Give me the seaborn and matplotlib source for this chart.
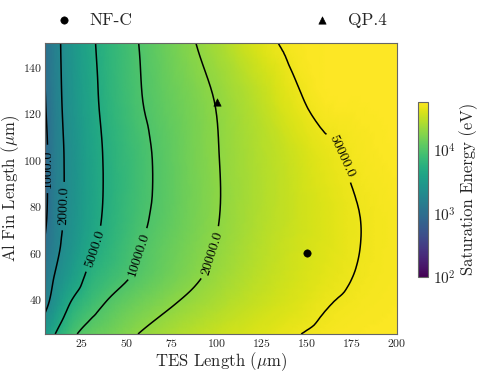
import numpy as np
import matplotlib
matplotlib.use("Agg")
import matplotlib.pyplot as plt
import matplotlib.tri as mtri
from matplotlib.colors import LogNorm
import seaborn as sns

# grid
tes_length = [5, 10, 15, 20, 30, 40, 55, 70, 85, 100, 120, 140, 160, 180, 200]
fin_length = [25, 37.5, 50, 62.5, 75, 100, 125, 150]

# log10 of saturation energy (eV), one row per fin length
log_energy = [
    [3.50, 3.68, 3.82, 3.95, 4.09, 4.17, 4.29, 4.39, 4.47, 4.54, 4.61, 4.68, 4.73, 4.75, 4.76],
    [3.24, 3.42, 3.60, 3.74, 3.91, 4.03, 4.16, 4.26, 4.35, 4.43, 4.53, 4.61, 4.69, 4.73, 4.75],
    [3.12, 3.30, 3.43, 3.54, 3.76, 3.88, 4.02, 4.14, 4.25, 4.35, 4.47, 4.57, 4.65, 4.71, 4.74],
    [3.03, 3.20, 3.34, 3.44, 3.65, 3.79, 3.97, 4.10, 4.21, 4.31, 4.44, 4.55, 4.63, 4.70, 4.74],
    [2.96, 3.17, 3.30, 3.40, 3.60, 3.75, 3.93, 4.06, 4.18, 4.29, 4.42, 4.53, 4.62, 4.70, 4.74],
    [2.94, 3.16, 3.29, 3.39, 3.59, 3.74, 3.91, 4.05, 4.18, 4.29, 4.42, 4.54, 4.66, 4.73, 4.76],
    [2.99, 3.17, 3.32, 3.43, 3.62, 3.78, 3.96, 4.09, 4.20, 4.31, 4.46, 4.64, 4.75, 4.76, 4.77],
    [3.02, 3.19, 3.34, 3.45, 3.65, 3.80, 3.98, 4.13, 4.27, 4.40, 4.60, 4.73, 4.76, 4.77, 4.77],
]
contour_levels = [1000, 2000, 5000, 10000, 20000, 50000]
label_spots = [(6.5, 96), (15, 80), (34.4, 61), (57.8, 59), (96.7, 60), (171.7, 102)]

devices = ["NF-C", "QP.4"]
dev_tes = [150, 100]
dev_fin = [60, 125]
dev_marker = ["o", "^"]

sns.set_style("white")
plt.rcParams["font.family"] = ["cmr10"]
plt.rcParams["mathtext.fontset"] = "cm"
plt.rcParams["axes.formatter.use_mathtext"] = True
plt.rcParams["axes.unicode_minus"] = False

fig = plt.figure(figsize=(4.8, 3.74), dpi=100)
ax = fig.add_axes([0.094, 0.107, 0.733, 0.777])
cax = fig.add_axes([0.871, 0.260, 0.021, 0.468])

X, Y = np.meshgrid(tes_length, fin_length)
Z = np.array(log_energy)
tri = mtri.Triangulation(X.ravel(), Y.ravel())
interp = mtri.CubicTriInterpolator(tri, Z.ravel(), kind="geom")
refiner = mtri.UniformTriRefiner(tri)
tri_f, z_f = refiner.refine_field(Z.ravel(), triinterpolator=interp, subdiv=3)

norm = LogNorm(vmin=1e2, vmax=10 ** 4.77)
mesh = ax.tripcolor(tri_f, 10 ** z_f, cmap="viridis", norm=norm, shading="gouraud")

lv = np.log10(contour_levels)
cs = ax.tricontour(tri_f, z_f, levels=lv, colors="black", linewidths=1.1)
fmt = {l: f"{10 ** l:.1f}" for l in cs.levels}
ax.clabel(cs, fmt=fmt, fontsize=10, manual=label_spots, inline=True)

for name, xt, yf, m in zip(devices, dev_tes, dev_fin, dev_marker):
    sns.scatterplot(x=[xt], y=[yf], marker=m, color="black", s=28,
                    edgecolor="black", label=name, ax=ax, zorder=5)

ax.set_xlim(5, 200)
ax.set_ylim(25, 150)
ax.set_xticks([25, 50, 75, 100, 125, 150, 175, 200])
ax.set_yticks([40, 60, 80, 100, 120, 140])
ax.tick_params(direction="in", length=3, width=0.6, color="#555555",
               labelsize=8.5, top=True, right=True, pad=2)
for sp in ax.spines.values():
    sp.set_color("#666666")
    sp.set_linewidth(0.8)
ax.set_xlabel(r"TES Length ($\mu$m)", fontsize=12, labelpad=1)
ax.set_ylabel(r"Al Fin Length ($\mu$m)", fontsize=12)
ax.yaxis.set_label_coords(-0.066, 0.5)

leg = ax.legend(loc="lower center", bbox_to_anchor=(0.5, 1.03), ncol=2,
                frameon=False, fontsize=12.5, handlelength=1.0,
                handletextpad=1.0, columnspacing=10.4, borderaxespad=0)

cb = fig.colorbar(mesh, cax=cax)
cb.outline.set_edgecolor("#666666")
cb.outline.set_linewidth(0.8)
cb.ax.tick_params(labelsize=11, direction="in", color="#555555", width=0.6)
cb.ax.tick_params(which="minor", direction="in", color="#555555", width=0.5, length=2)
cb.set_label("Saturation Energy (eV)", fontsize=12, labelpad=2)

fig.savefig("out.png", dpi=100)
